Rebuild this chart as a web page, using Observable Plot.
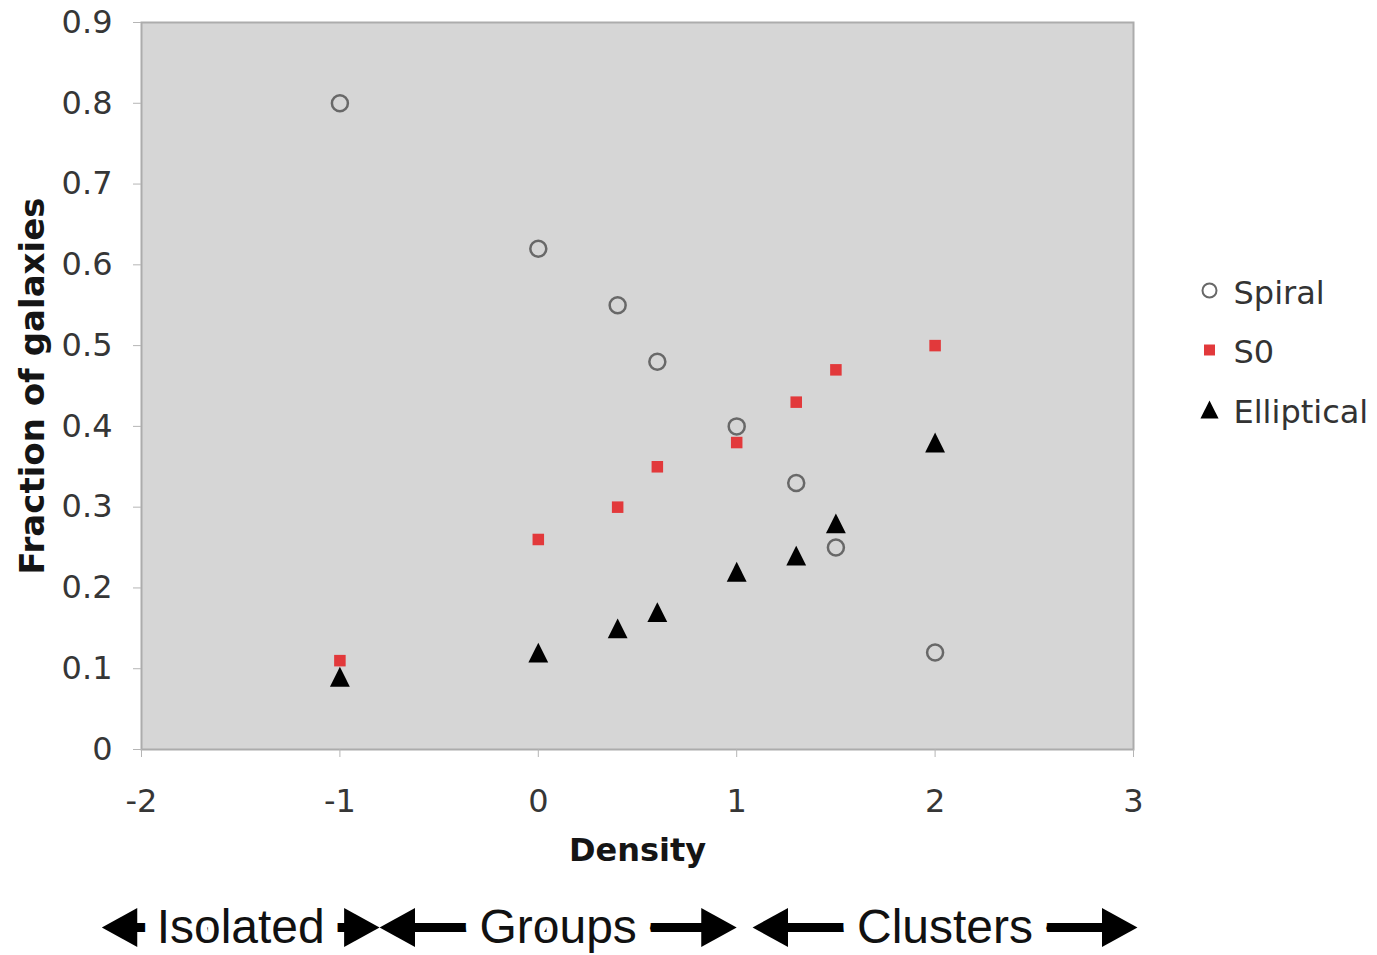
<!DOCTYPE html>
<html>
<head>
<meta charset="utf-8">
<script src="https://cdn.jsdelivr.net/npm/d3@7"></script>
<script src="https://cdn.jsdelivr.net/npm/@observablehq/plot@0.6"></script>
<style>
  body { margin: 0; background: #fff; }
  #chart svg { display: block; }
</style>
</head>
<body>
<div id="chart"></div>
<script>
// Morphology–density relation: fraction of each galaxy type vs. local density
const density    = [-1, 0, 0.4, 0.6, 1, 1.3, 1.5, 2];
const spiral     = [0.80, 0.62, 0.55, 0.48, 0.40, 0.33, 0.25, 0.12];
const s0         = [0.11, 0.26, 0.30, 0.35, 0.38, 0.43, 0.47, 0.50];
const elliptical = [0.09, 0.12, 0.15, 0.17, 0.22, 0.24, 0.28, 0.38];

const seriesNames = ["Spiral", "S0", "Elliptical"];
const xTicks = [-2, -1, 0, 1, 2, 3];
const yTicks = [0, 0.1, 0.2, 0.3, 0.4, 0.5, 0.6, 0.7, 0.8, 0.9];
const xTitle = "Density";
const yTitle = "Fraction of galaxies";

// Environment ranges shown as arrows under the density axis
const regionLabels = ["Isolated", "Groups", "Clusters"];
const regionStart  = [-2.2, -0.8, 1.08];
const regionEnd    = [-0.8, 1.0, 3.02];

const values = {Spiral: spiral, S0: s0, Elliptical: elliptical};
const rows = seriesNames.flatMap(name =>
  density.map((x, i) => ({type: name, density: x, fraction: values[name][i]}))
);
const regions = regionLabels.map((label, i) => ({label, from: regionStart[i], to: regionEnd[i]}));

// Spreadsheet-style triangle: as tall as it is wide, centred on its box
const boxTriangle = {
  draw(ctx, size) {
    const h = Math.sqrt(size) * 0.7;
    ctx.moveTo(0, -h); ctx.lineTo(h, h); ctx.lineTo(-h, h); ctx.closePath();
  }
};
// Filled arrowhead with its tip at the anchor point, pointing right
const arrowHead = {
  draw(ctx, size) {
    const L = Math.sqrt(size);
    ctx.moveTo(0, 0); ctx.lineTo(-L, -0.55 * L); ctx.lineTo(-L, 0.55 * L); ctx.closePath();
  }
};

// Marker styles per series (chart size r, legend size lr)
const markerStyle = {
  Spiral:     {symbol: "circle",    fill: "none",    stroke: "#686868", strokeWidth: 2.5, r: 8,   lr: 7,   lsw: 2},
  S0:         {symbol: "square",    fill: "#e2393b", stroke: "none",    strokeWidth: 0,   r: 6.5, lr: 6.2, lsw: 0},
  Elliptical: {symbol: boxTriangle, fill: "#000",    stroke: "none",    strokeWidth: 0,   r: 8,   lr: 7.3, lsw: 0}
};

const marks = [
  Plot.frame({fill: "#d6d6d6", stroke: "#acacac", strokeWidth: 2}),
  Plot.axisY({ticks: yTicks, tickFormat: d => String(d), tickSize: 8, tickPadding: 21,
              stroke: "#b5b5b5", fill: "#363636", label: null}),
  Plot.axisX({ticks: xTicks, tickFormat: d => String(d), tickSize: 8, tickPadding: 32,
              stroke: "#b5b5b5", fill: "#363636", label: null}),
  Plot.text([xTitle], {frameAnchor: "bottom", dy: 101, text: d => d, lineAnchor: "middle",
                       fontWeight: "bold", fill: "#151515", fontSize: 32}),
  Plot.text([yTitle], {frameAnchor: "left", dx: -108, rotate: -90, text: d => d,
                       textAnchor: "middle", lineAnchor: "middle",
                       fontWeight: "bold", fill: "#151515", fontSize: 34})
];

// Data points, one mark per series
for (const name of seriesNames) {
  const s = markerStyle[name];
  marks.push(Plot.dot(rows.filter(d => d.type === name), {
    x: "density", y: "fraction", symbol: s.symbol, r: s.r,
    fill: s.fill, stroke: s.stroke, strokeWidth: s.strokeWidth
  }));
}

// Legend to the right of the frame
seriesNames.forEach((name, i) => {
  const s = markerStyle[name];
  marks.push(
    Plot.dot([name], {frameAnchor: "top-right", dx: 76, dy: 268 + i * 59.5,
      symbol: s.symbol, r: s.lr, fill: s.fill, stroke: s.stroke, strokeWidth: s.lsw}),
    Plot.text([name], {frameAnchor: "top-right", dx: 100, dy: 271 + i * 59.5,
      text: d => d, textAnchor: "start", lineAnchor: "middle", fill: "#333", fontSize: 32})
  );
});

// Environment arrows: shaft, label (white halo breaks the shaft), heads
const rowOffset = 178;
marks.push(
  Plot.ruleY(regions, {x1: "from", x2: "to", y: 0, dy: rowOffset, insetLeft: 12, insetRight: 12,
    stroke: "#000", strokeWidth: 9}),
  Plot.text(regions, {x: d => (d.from + d.to) / 2, y: 0, dy: rowOffset, text: "label",
    lineAnchor: "middle", fontSize: 48, fontFamily: "'Liberation Sans', Arial, sans-serif",
    fill: "#111", stroke: "#fff", strokeWidth: 32}),
  Plot.dot(regions, {x: "from", y: 0, dy: rowOffset, symbol: arrowHead, rotate: 180,
    r: 20, fill: "#000", stroke: "none"}),
  Plot.dot(regions, {x: "to", y: 0, dy: rowOffset, symbol: arrowHead,
    r: 20, fill: "#000", stroke: "none"})
);

const chart = Plot.plot({
  width: 1377,
  height: 955,
  marginLeft: 141,
  marginRight: 244,
  marginTop: 22,
  marginBottom: 206,
  x: {domain: [-2, 3], axis: null},
  y: {domain: [0, 0.9], axis: null},
  style: {fontFamily: "'DejaVu Sans', Verdana, sans-serif", fontSize: "32px", background: "#fff", color: "#333"},
  marks
});
document.getElementById("chart").append(chart);
</script>
</body>
</html>
